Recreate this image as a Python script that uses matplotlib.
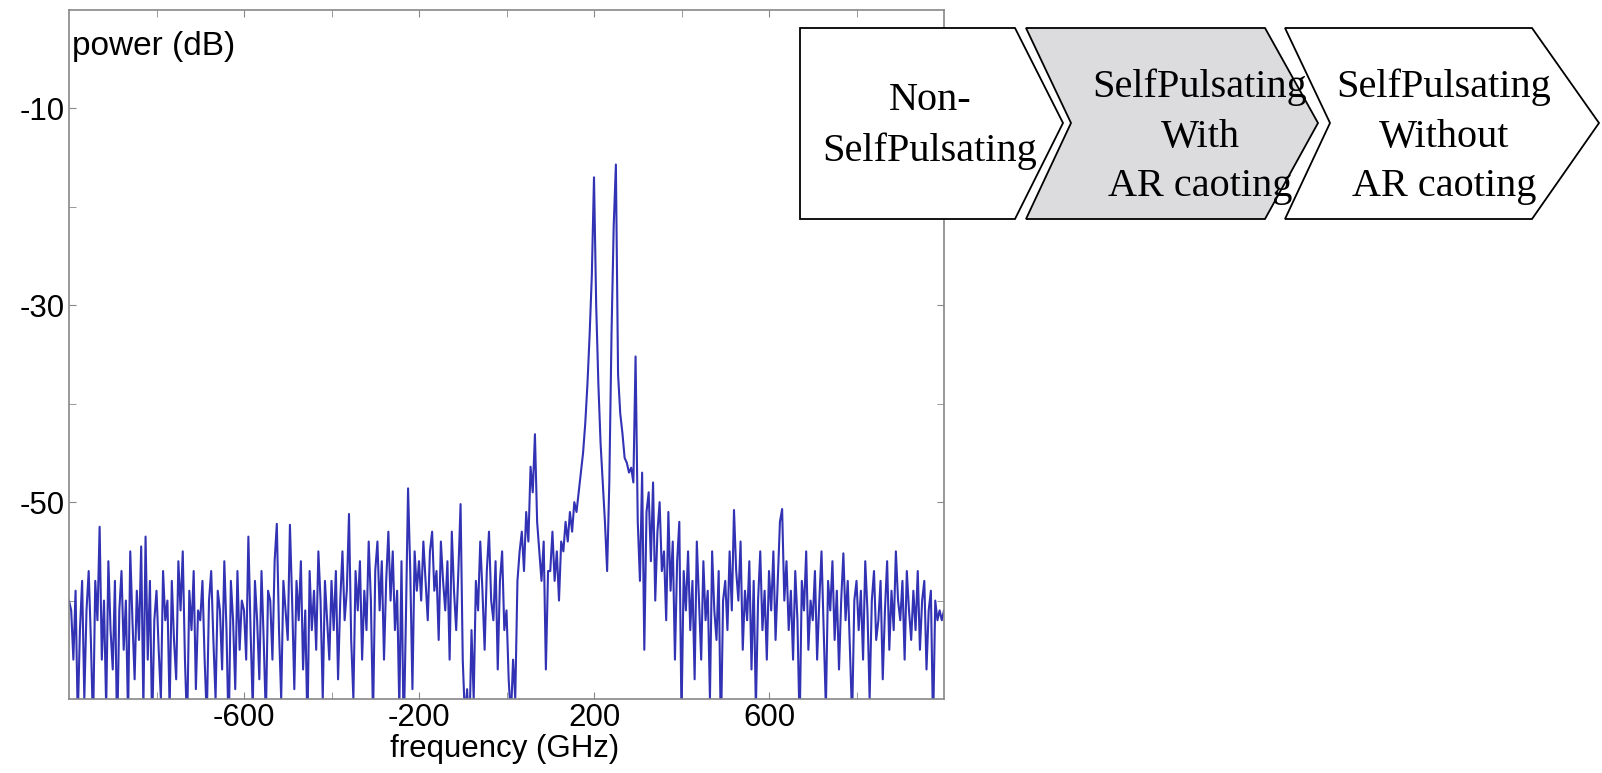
import numpy as np
import matplotlib.pyplot as plt
from matplotlib.patches import Polygon

plt.rcParams['axes.unicode_minus'] = False

# frequency grid (GHz), step 5
freq = np.arange(-1000, 1001, 5)

# power (dB), 20 values per 100 GHz
power = [
    -60, -61, -66, -59, -72, -63, -58, -70, -61, -57, -64, -73, -58, -62, -52.5, -66, -60, -71, -56, -63,
    -67, -58, -74, -61, -57, -65, -60, -72, -55, -62, -68, -59, -64, -54.5, -71, -53.5, -66, -58, -73, -62,
    -59, -65, -70, -57, -62, -60, -71, -58, -64, -68, -56, -61, -55, -66, -73, -59, -63, -57, -69, -61,
    -62, -58, -66, -72, -60, -57, -64, -70, -59, -61, -67, -56, -63, -74, -58, -62, -69, -57, -65, -60,
    -61, -66, -53.5, -63, -71, -58, -62, -68, -57, -64, -72, -59, -60, -66, -56, -52.2, -63, -70, -58, -61,
    -64, -52.3, -60, -69, -58, -62, -56, -67, -61, -73, -57, -63, -59, -65, -55, -60, -70, -58, -62, -66,
    -58, -63, -57, -68, -60, -55, -62, -59, -51.2, -64, -70, -57, -61, -56, -66, -59, -63, -54, -60, -72,
    -57, -54, -61, -56, -66, -58, -53, -60, -55, -63, -59, -71, -56, -74, -62, -48.6, -57, -69, -55, -59,
    -56, -60, -54, -58, -62, -55, -53, -59, -57, -64, -54, -58, -61, -56, -66, -53, -59, -63, -57, -50.2,
    -66, -72, -69, -74, -63, -70, -58, -61, -54, -59, -65, -57, -53, -60, -62, -56, -67, -58, -55, -63,
    -61, -68, -72, -66, -70, -58, -55, -53, -57, -51, -54, -46.4, -49, -43.1, -52, -55, -58, -54, -67, -57,
    -57, -53, -58, -55, -60, -54, -55, -52, -54, -51, -53, -50, -51, -49, -47, -45, -42, -38, -33, -27,
    -17, -30, -38, -44, -48, -52, -57, -48, -33, -22, -15.7, -37, -41, -43, -45.5, -46, -47, -46.5, -48, -35.2,
    -52, -58, -47, -65, -51, -49, -56, -48, -60, -53, -50, -57, -55, -62, -51, -59, -54, -66, -56, -52,
    -72, -57, -61, -55, -63, -58, -68, -54, -60, -66, -56, -62, -59, -70, -55, -61, -64, -57, -74, -60,
    -58, -63, -55, -61, -50.8, -57, -60, -54, -65, -59, -62, -56, -67, -58, -71, -60, -55, -63, -59, -66,
    -57, -61, -55, -64, -58, -52, -50.7, -60, -56, -63, -59, -66, -57, -62, -73, -58, -61, -55, -65, -60,
    -62, -57, -66, -60, -55, -63, -71, -58, -61, -56, -64, -59, -67, -60, -55.2, -62, -58, -65, -72, -60,
    -58, -63, -59, -66, -56, -61, -70, -60, -57, -64, -62, -58, -68, -61, -56, -65, -59, -63, -55, -60,
    -62, -58, -66, -57, -61, -64, -59, -63, -57, -65, -60, -58, -67, -61, -59, -73, -60, -62, -61, -62,
    -61,
]

x_ticks = [-600, -200, 200, 600]
x_minor = [-800, -400, 0, 400, 800]
y_ticks = [-50, -30, -10]
y_minor = [-60, -40, -20]

stages = ['Non-\nSelfPulsating', 'SelfPulsating\nWith\nAR caoting', 'SelfPulsating\nWithout\nAR caoting']

W, H = 1602, 773
fig = plt.figure(figsize=(W / 100, H / 100), dpi=100)
ax = fig.add_axes([69 / W, 1 - 699 / H, (944 - 69) / W, (699 - 10) / H])

ax.plot(freq, power, color='#3232b4', lw=1.5)

ax.set_xlim(-1000, 1000)
ax.set_ylim(-70, 0)
ax.set_xticks(x_ticks)
ax.set_xticks(x_minor, minor=True)
ax.set_yticks(y_ticks)
ax.set_yticks(y_minor, minor=True)
ax.tick_params(which='both', direction='in', top=True, right=True, length=5,
               color='#888888', labelsize=22.5, pad=3)
for s in ax.spines.values():
    s.set_color('#888888')
    s.set_linewidth(1.2)
for lab in ax.get_xticklabels() + ax.get_yticklabels():
    lab.set_fontfamily('Liberation Sans')

# axis titles placed where the reference has them
fig.text(505 / W, 1 - 749 / H, 'frequency (GHz)', fontsize=22.5, family='Liberation Sans',
         ha='center', va='center')
fig.text(72 / W, 1 - 46 / H, 'power (dB)', fontsize=24, family='Liberation Sans',
         ha='left', va='center')

# chevrons drawn in figure pixel coordinates
def px(x, y):
    return (x / W, 1 - y / H)

top, mid, bot = 28, 123, 219
shapes = [
    [(800, top), (1015, top), (1063, mid), (1015, bot), (800, bot)],
    [(1026, top), (1265, top), (1318, mid), (1265, bot), (1026, bot), (1071, mid)],
    [(1285, top), (1532, top), (1599, mid), (1532, bot), (1285, bot), (1330, mid)],
]
fills = ['white', '#dcdcde', 'white']
centers = [(930, 126), (1200, 137), (1444, 137)]
for pts, fc, (cx, cy), label in zip(shapes, fills, centers, stages):
    poly = Polygon([px(*p) for p in pts], closed=True, transform=fig.transFigure,
                   facecolor=fc, edgecolor='black', lw=1.3)
    fig.patches.append(poly)
    fig.text(*px(cx, cy), label, ha='center', va='center', fontsize=29,
             family='Liberation Serif', linespacing=1.45)

fig.savefig('out.png', dpi=100)
